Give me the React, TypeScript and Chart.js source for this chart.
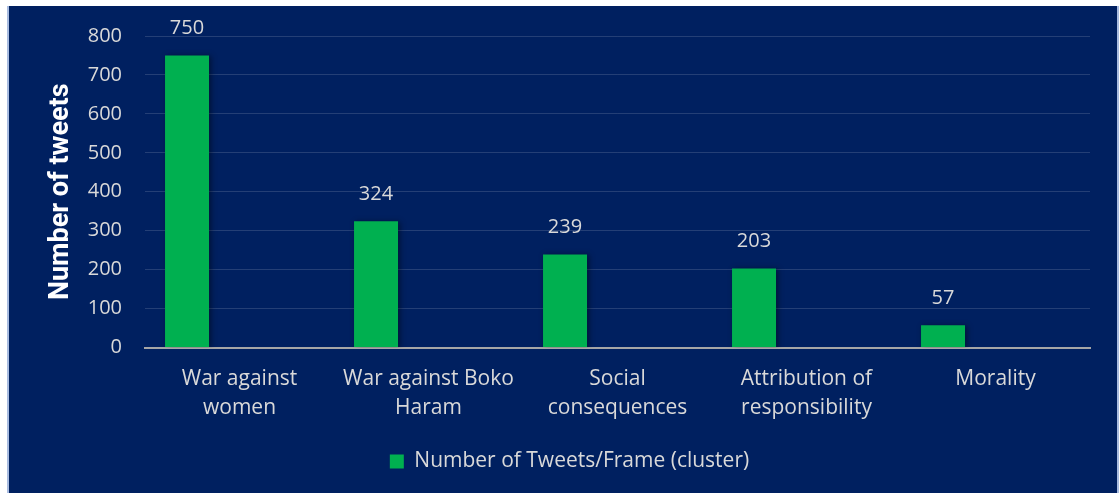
import React, { useEffect, useRef } from "react";
import { Chart, registerables } from "chart.js";

Chart.register(...registerables);

const categories: (string | string[])[] = [
  ["War against", "women"],
  ["War against Boko", "Haram"],
  ["Social", "consequences"],
  ["Attribution of", "responsibility"],
  "Morality",
];
const tweetCounts = [750, 324, 239, 203, 57];
const emptySeriesA: (number | null)[] = [null, null, null, null, null];
const emptySeriesB: (number | null)[] = [null, null, null, null, null];
const seriesName = "Number of Tweets/Frame (cluster)";
const yTitle = "Number of tweets";
const yMin = 0;
const yMax = 800;
const yStep = 100;

const NAVY = "#002060";
const GREEN = "#00B050";
const TEXT = "#D9D9D9";
const FONT = "'Open Sans'";

const barShadow = {
  id: "barShadow",
  beforeDatasetsDraw(chart: any) {
    const ctx = chart.ctx;
    ctx.save();
    ctx.shadowColor = "rgba(0,0,0,0.45)";
    ctx.shadowBlur = 6;
    ctx.shadowOffsetX = 2;
    ctx.shadowOffsetY = 1;
  },
  afterDatasetsDraw(chart: any) {
    chart.ctx.restore();
  },
};

const valueLabels = {
  id: "valueLabels",
  afterDatasetsDraw(chart: any) {
    const ctx = chart.ctx;
    const meta = chart.getDatasetMeta(0);
    ctx.save();
    ctx.fillStyle = TEXT;
    ctx.font = `20px ${FONT}`;
    ctx.textAlign = "center";
    ctx.textBaseline = "middle";
    meta.data.forEach((bar: any, i: number) => {
      const v = tweetCounts[i];
      ctx.fillText(String(v), bar.x, bar.y - 27);
    });
    ctx.restore();
  },
};

export default function App() {
  const ref = useRef<HTMLCanvasElement | null>(null);

  useEffect(() => {
    if (!ref.current) return;
    const chart = new Chart(ref.current, {
      type: "bar",
      data: {
        labels: categories,
        datasets: [
          {
            label: seriesName,
            data: tweetCounts,
            backgroundColor: GREEN,
            borderWidth: 0,
            categoryPercentage: 0.833,
            barPercentage: 0.838,
          },
          {
            label: "_a",
            data: emptySeriesA,
            backgroundColor: "transparent",
            categoryPercentage: 0.833,
            barPercentage: 0.838,
          },
          {
            label: "_b",
            data: emptySeriesB,
            backgroundColor: "transparent",
            categoryPercentage: 0.833,
            barPercentage: 0.838,
          },
        ],
      },
      options: {
        responsive: false,
        animation: false,
        layout: { padding: { top: 30, right: 27, bottom: 11, left: 40 } },
        plugins: {
          tooltip: { enabled: false },
          legend: {
            position: "bottom",
            labels: {
              color: TEXT,
              font: { family: FONT, size: 21 },
              boxWidth: 14,
              boxHeight: 14,
              padding: 10,
              filter: (item: any) => item.datasetIndex === 0,
            },
          },
        },
        scales: {
          x: {
            grid: { display: false, drawTicks: false },
            border: { color: "#A6A6A6", width: 2 },
            ticks: {
              color: TEXT,
              font: { family: FONT, size: 21, lineHeight: 29 / 21 },
              padding: 17,
              maxRotation: 0,
              autoSkip: false,
            },
            afterFit: (scale: any) => {
              scale.height = 93.5;
            },
          },
          y: {
            min: yMin,
            max: yMax,
            grid: { color: "rgba(255,255,255,0.14)", lineWidth: 1, drawTicks: false },
            border: { display: false },
            ticks: {
              stepSize: yStep,
              color: TEXT,
              font: { family: FONT, size: 20 },
              padding: 23,
            },
            title: {
              display: true,
              text: yTitle,
              color: "#FFFFFF",
              font: { family: "Roboto", size: 27, weight: "bold", lineHeight: 1.2 },
              padding: { top: -4, bottom: 0 },
            },
            afterFit: (scale: any) => {
              scale.width = 96;
              scale.paddingTop = 0;
              scale.paddingBottom = 0;
            },
          },
        },
      },
      plugins: [barShadow, valueLabels],
    });
    return () => chart.destroy();
  }, []);

  return (
    <div
      style={{
        position: "absolute",
        left: 7,
        top: 6,
        width: 1108,
        height: 487,
        background: NAVY,
        borderLeft: "2px solid #A9BCE0",
        borderRight: "2px solid #A9BCE0",
      }}
    >
      <canvas ref={ref} width={1108} height={487} style={{ display: "block" }} />
    </div>
  );
}
